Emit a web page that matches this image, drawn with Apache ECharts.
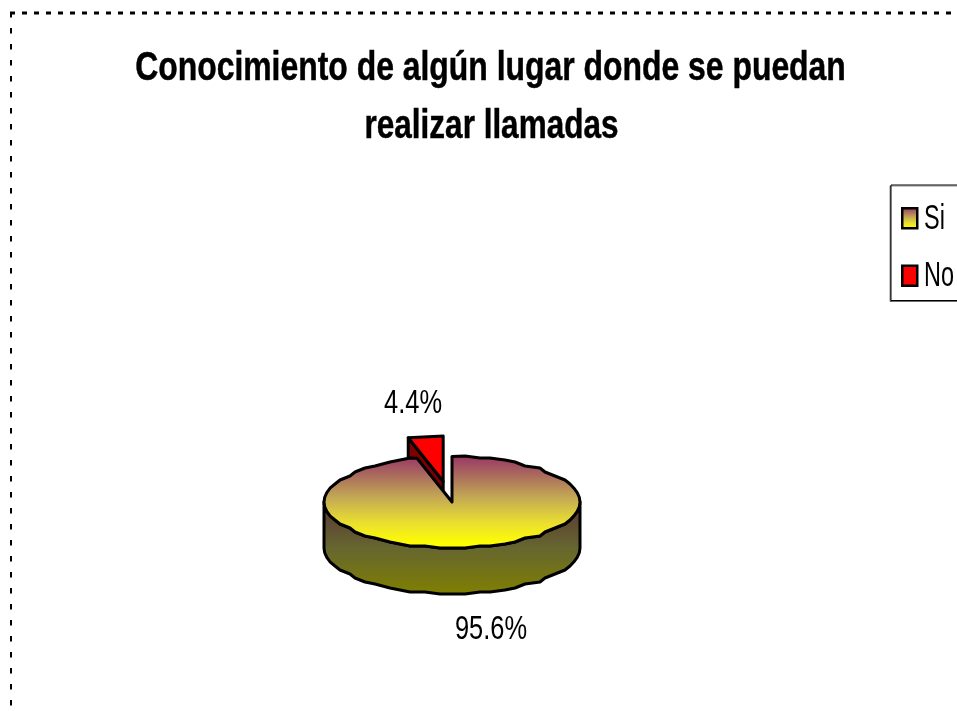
<!DOCTYPE html>
<html><head><meta charset="utf-8">
<style>html,body{margin:0;padding:0;background:#fff}#c{width:957px;height:711px}</style>
<script src="https://cdn.jsdelivr.net/npm/echarts@6/dist/echarts.min.js"></script>
</head><body><div id="c"></div>
<script>
const titleLines = ['Conocimiento de algún lugar donde se puedan', 'realizar llamadas'];
const categories = ['Si', 'No'];
const values = [95.6, 4.4];

const FONT = '"Liberation Sans",Arial,sans-serif';
const CX = 452, CY = 502, RX = 128, RY = 45.5, DEPTH = 46, EXPLODE = 0.5, STEP = 6, SNAPX = 5, SNAPY = 2;
const stops = (list) => list.map(([offset, color]) => ({offset, color}));
const vgrad = (list) => new echarts.graphic.LinearGradient(0, 0, 0, 1, stops(list));
const topFill = () => vgrad([[0, '#993366'], [0.2, '#a8665e'], [0.45, '#c4a855'], [0.72, '#eadf30'], [0.95, '#ffff00'], [1, '#ffff00']]);
const sideFill = () => vgrad([[0, '#593333'], [0.5, '#666630'], [1, '#808000']]);
const total = values.reduce((a, b) => a + b, 0);
const rim = (deg, ox, oy) => {
  const t = deg * Math.PI / 180;
  return [CX + ox + RX * Math.sin(t), CY + oy - RY * Math.cos(t)];
};
// The reference outline is stair-stepped: rim points are snapped to a coarse grid,
// except near the far left and right where the ellipse must stay exact.
const snap = (p, deg) => Math.abs(Math.sin(deg * Math.PI / 180)) > 0.93 ? p
  : [Math.round(p[0] / SNAPX) * SNAPX, Math.round(p[1] / SNAPY) * SNAPY];
const arc = (from, to, ox, oy, rough) => {
  const pts = [rim(from, ox, oy)];
  for (let d = from + STEP; d < to; d += STEP) pts.push(rough ? snap(rim(d, ox, oy), d) : rim(d, ox, oy));
  pts.push(rim(to, ox, oy));
  return pts;
};
const stroke = {stroke: '#000', lineWidth: 3, lineJoin: 'round'};
const poly = (points, fill) => ({type: 'polygon', shape: {points}, style: {fill, ...stroke}});
const txt = (text, x, y, size, scaleX, align, extra) => ({
  type: 'text', x, y, scaleX,
  style: {text, fill: '#000', font: size + 'px ' + FONT, align, verticalAlign: 'middle', ...extra}
});
const titleStyle = {font: 'bold 41px ' + FONT, stroke: '#000', lineWidth: 0.5};

function renderSi(params, api) {
  const end = api.value(0) / total * 360;
  const bottom = arc(90, 270, 0, DEPTH, true);
  const top = arc(90, 270, 0, 0, true).reverse();
  return {type: 'group', children: [
    poly(bottom.concat(top), sideFill()),
    poly([[CX, CY]].concat(arc(0, end, 0, 0, true)), topFill()),
    txt(api.value(0).toFixed(1) + '%', 491, 630, 33.5, 0.76, 'center')
  ]};
}
function renderNo(params, api) {
  const start = values[0] / total * 360;
  const end = start + api.value(0) / total * 360;
  const mid = (start + end) / 2 * Math.PI / 180;
  const ox = EXPLODE * RX * Math.sin(mid), oy = -EXPLODE * RY * Math.cos(mid) + 2;
  const apex = [CX + ox, CY + oy];
  const rimPts = [rim(start, ox, oy), rim(end, ox, oy)];
  const a = rimPts[0], aD = [a[0], a[1] + DEPTH], pD = [apex[0], apex[1] + DEPTH];
  return {type: 'group', children: [
    poly([a, apex, pD, aD], '#800000'),
    poly([apex].concat(rimPts), '#ff0000'),
    txt(api.value(0).toFixed(1) + '%', 413, 404, 33.5, 0.76, 'center')
  ]};
}

const chart = echarts.init(document.getElementById('c'), null, {renderer: 'canvas'});
chart.setOption({
  animation: false,
  backgroundColor: '#fff',
  legend: {
    left: 891, top: 185, orient: 'vertical', selectedMode: false,
    padding: [22, 60, 13.5, 10], itemGap: 35, itemWidth: 15, itemHeight: 20,
    backgroundColor: '#fff', borderColor: '#000', borderWidth: 1,
    shadowColor: 'rgba(0,0,0,0.45)', shadowOffsetX: -1, shadowOffsetY: 1,
    formatter: () => ' ',
    textStyle: {fontFamily: FONT, fontSize: 10, color: '#000'},
    data: [
      {name: categories[0], icon: 'rect', itemStyle: {color: topFill(), borderColor: '#000', borderWidth: 2.5}},
      {name: categories[1], icon: 'rect', itemStyle: {color: '#ff0000', borderColor: '#000', borderWidth: 2.5}}
    ]
  },
  graphic: [
    {type: 'line', z: 10, shape: {x1: 10, y1: 13, x2: 957, y2: 13}, style: {stroke: '#000', lineWidth: 3, lineDash: [5, 7]}},
    {type: 'line', z: 10, shape: {x1: 11, y1: 12, x2: 11, y2: 711}, style: {stroke: '#000', lineWidth: 2, lineDash: [5.5, 10.5]}},
    {...txt(titleLines[0], 490.5, 69, 41, 0.778, 'center', titleStyle), z: 10},
    {...txt(titleLines[1], 491.5, 127, 41, 0.768, 'center', titleStyle), z: 10},
    {...txt(categories[0], 924, 219, 35, 0.67, 'left'), z: 10},
    {...txt(categories[1], 924, 276, 35, 0.67, 'left'), z: 10}
  ],
  series: [
    {type: 'custom', name: categories[1], coordinateSystem: 'none', z: 2, renderItem: renderNo, data: [[values[1]]], itemStyle: {color: '#ff0000'}},
    {type: 'custom', name: categories[0], coordinateSystem: 'none', z: 3, renderItem: renderSi, data: [[values[0]]], itemStyle: {color: '#ffff00'}}
  ]
});
</script></body></html>
